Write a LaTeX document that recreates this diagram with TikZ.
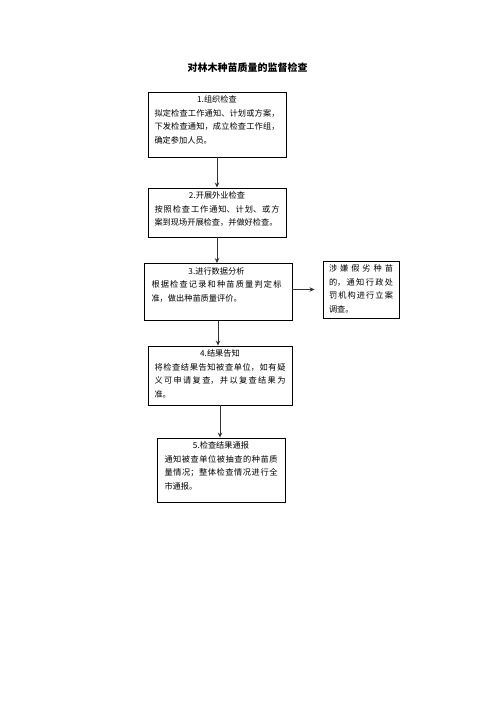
\documentclass[tikz,border=0pt]{standalone}
\usepackage{fontspec}
\setmainfont{Noto Sans CJK SC}
\usetikzlibrary{arrows.meta}
\XeTeXlinebreaklocale "zh"
\XeTeXlinebreakskip=0pt plus 2pt

\tikzset{
  stage/.style={draw, line width=0.9pt, inner sep=0pt},
  stagetext/.style={anchor=north, inner sep=4pt, align=justify,
    font=\fontsize{8.2}{13.5}\selectfont},
  flow/.style={draw=black!80, line width=1pt, -{Stealth[length=5pt,width=4.5pt]}}
}

\begin{document}
\begin{tikzpicture}[x=1pt, y=-1pt]
      \path[use as bounding box, fill=white] (0,0) rectangle (496,702);

      \node[font=\bfseries\fontsize{10}{12}\selectfont] (title) at (247.5,68) {对林木种苗质量的监督检查};

      % boxes of the main line
      \node[stage, minimum width=138pt, minimum height=65pt] (b1) at (217,124.5) {};
      \node[stagetext, text width=125pt] (t1) at (b1.north)
        {{\centering 1.组织检查\par}拟定检查工作通知、计划或方案，\linebreak 下发检查通知，成立检查工作组，\linebreak 确定参加人员。};

      \node[stage, minimum width=138pt, minimum height=49pt] (b2) at (217,212.5) {};
      \node[stagetext, text width=125pt] (t2) at (b2.north)
        {{\centering 2.开展外业检查\par}按照检查工作通知、计划、或方\linebreak 案到现场开展检查，并做好检查。};

      \node[stage, minimum width=148pt, minimum height=57pt] (b3) at (218,292) {};
      \node[stagetext, text width=130pt] (t3) at ([xshift=-1.5pt]b3.north)
        {{\centering 3.进行数据分析\par}根据检查记录和种苗质量判定标\linebreak 准，做出种苗质量评价。};

      \node[stage, minimum width=144pt, minimum height=59pt] (b4) at (220,375.5) {};
      \node[stagetext, text width=131pt] (t4) at (b4.north)
        {{\centering 4.结果告知\par}将检查结果告知被查单位，如有疑\linebreak 义可申请复查，并以复查结果为\linebreak 准。};

      \node[stage, minimum width=128pt, minimum height=64pt] (b5) at (221,470) {};
      \node[stagetext, text width=113pt] (t5) at (b5.north)
        {{\centering 5.检查结果通报\par}通知被查单位被抽查的种苗质\linebreak 量情况；整体检查情况进行全\linebreak 市通报。};

      % side box
      \node[stage, minimum width=76pt, minimum height=57pt] (b6) at (361,289.5) {};
      \node[stagetext, text width=64pt] (t6) at (b6.north)
        {涉嫌假劣种苗\linebreak 的，通知行政处\linebreak 罚机构进行立案\linebreak 调查。};

      \draw[flow] (b1.south) -- (b1.south |- b2.north);
      \draw[flow] (b2.south) -- (b2.south |- b3.north);
      \draw[flow] (b3.south) -- (b3.south |- b4.north);
      \draw[flow] (b4.south) -- (b4.south |- b5.north);
      \draw[flow] (b3.east |- b6.west) -- ([xshift=-8pt]b6.west);
\end{tikzpicture}
\end{document}
